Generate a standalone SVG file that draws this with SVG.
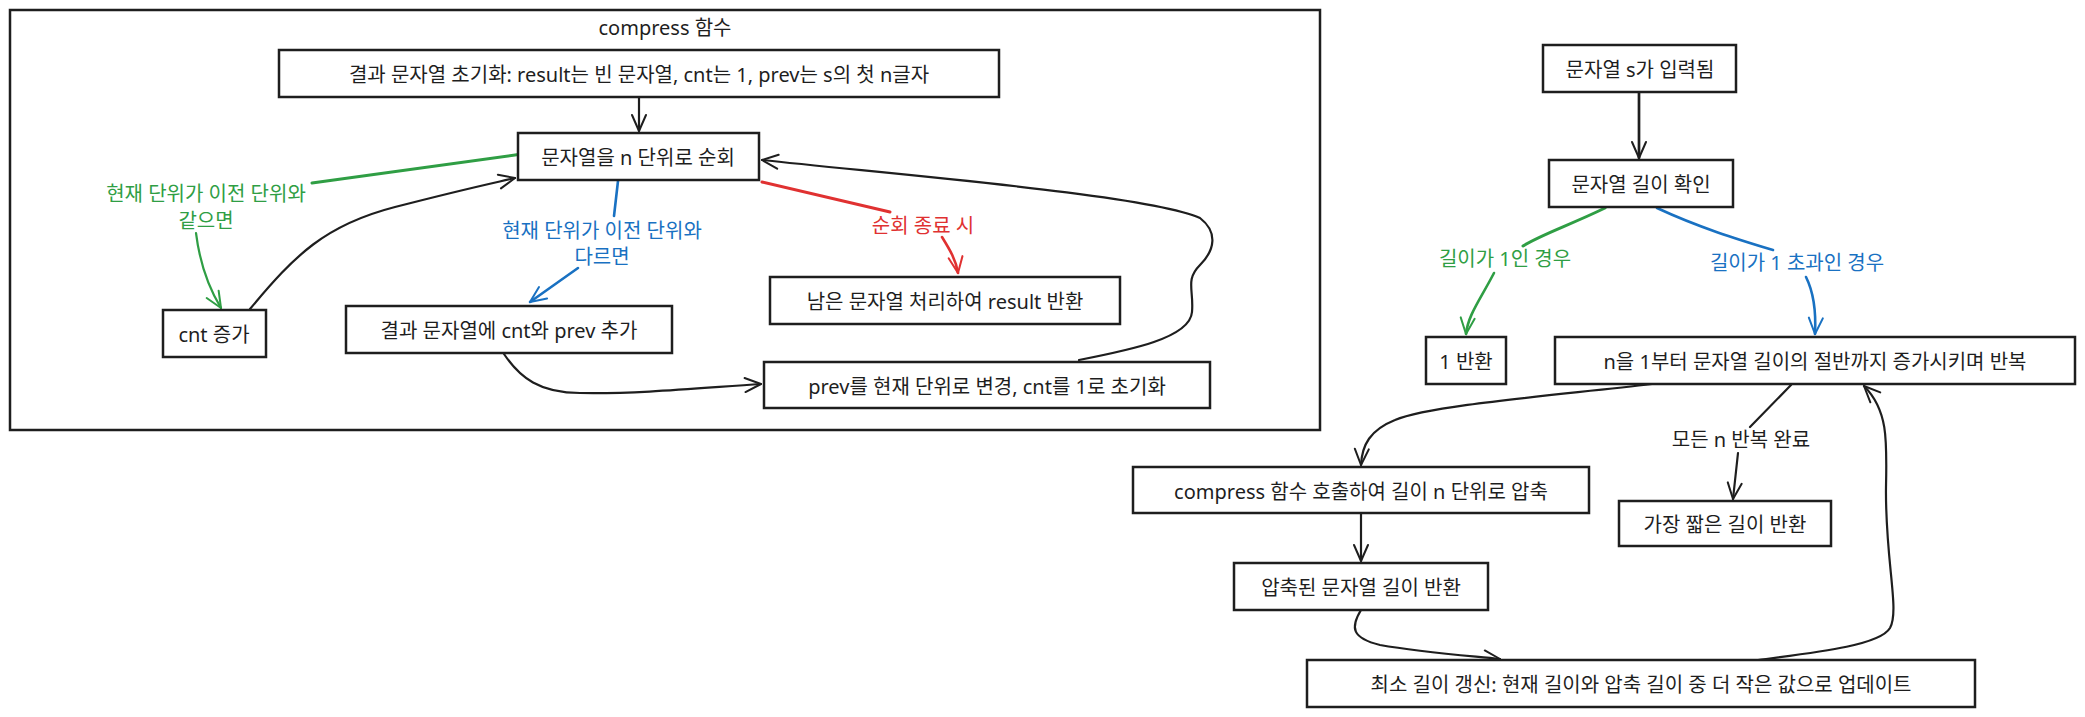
<svg xmlns="http://www.w3.org/2000/svg" width="2085" height="717" viewBox="0 0 2085 717">
<defs>
<style>
text{font-family:"Noto Sans","Noto Sans CJK KR",sans-serif;font-size:20px;text-anchor:middle;dominant-baseline:central;fill:#1e1e1e}
.box{fill:#fff;stroke:#1e1e1e;stroke-width:2.5}
.e{fill:none;stroke-width:2.2;stroke-linecap:round;stroke-linejoin:round}
.k{stroke:#1e1e1e}
.g{stroke:#2f9e44}
.b{stroke:#1971c2}
.r{stroke:#e03131}
.tg{fill:#2f9e44}
.tb{fill:#1971c2}
.tr{fill:#e03131}
</style>
<marker id="ak" viewBox="-20 -10 22 20" markerWidth="22" markerHeight="20" refX="0" refY="0" orient="auto" markerUnits="userSpaceOnUse"><path d="M-16,-7 L0,0 L-16,7" fill="none" stroke="#1e1e1e" stroke-width="2" stroke-linecap="round" stroke-linejoin="round"/></marker>
<marker id="ag" viewBox="-20 -10 22 20" markerWidth="22" markerHeight="20" refX="0" refY="0" orient="auto" markerUnits="userSpaceOnUse"><path d="M-16,-7 L0,0 L-16,7" fill="none" stroke="#2f9e44" stroke-width="2" stroke-linecap="round" stroke-linejoin="round"/></marker>
<marker id="ab" viewBox="-20 -10 22 20" markerWidth="22" markerHeight="20" refX="0" refY="0" orient="auto" markerUnits="userSpaceOnUse"><path d="M-16,-7 L0,0 L-16,7" fill="none" stroke="#1971c2" stroke-width="2" stroke-linecap="round" stroke-linejoin="round"/></marker>
<marker id="ar" viewBox="-20 -10 22 20" markerWidth="22" markerHeight="20" refX="0" refY="0" orient="auto" markerUnits="userSpaceOnUse"><path d="M-16,-7 L0,0 L-16,7" fill="none" stroke="#e03131" stroke-width="2" stroke-linecap="round" stroke-linejoin="round"/></marker>
</defs>
<rect width="2085" height="717" fill="#fff"/>
<g id="cluster-compress">
<rect x="10" y="10" width="1310" height="420" fill="none" stroke="#1e1e1e" stroke-width="2.5"/>
<text x="665" y="27">compress 함수</text>
</g>
<g id="connectors">
<path class="e k" d="M639,97 L639,131" marker-end="url(#ak)"/>
<path class="e k" d="M250,309 C295,255 325,225 395,207 S480,186 515,178" marker-end="url(#ak)"/>
<path class="e k" d="M504,354 C520,378 540,393 580,393 C640,394 700,388 761,384" marker-end="url(#ak)"/>
<path class="e k" d="M1079,360 C1130,350 1190,338 1192,312 C1194,290 1185,280 1200,265 C1215,250 1218,232 1200,218 C1150,195 900,175 762,160" marker-end="url(#ak)"/>
<path class="e k" d="M1639,92 L1639,158" marker-end="url(#ak)" style="stroke-width:2.7"/>
<path class="e k" d="M1652,384 C1560,395 1430,405 1395,420 C1370,430 1362,445 1361,465" marker-end="url(#ak)"/>
<path class="e k" d="M1791,385 L1750,427"/>
<path class="e k" d="M1738,453 L1733,499" marker-end="url(#ak)"/>
<path class="e k" d="M1361,513 L1361,561" marker-end="url(#ak)"/>
<path class="e k" d="M1361,610 C1350,628 1352,638 1380,645 C1420,652 1460,655 1500,659" marker-end="url(#ak)"/>
<path class="e k" d="M1758,660 C1820,652 1880,645 1890,628 C1900,610 1885,560 1886,487 C1887,440 1888,410 1864,386" marker-end="url(#ak)"/>
<path class="e g" d="M522,154 L312,183" style="stroke-width:3"/>
<path class="e g" d="M196,233 C200,265 210,290 221,308" marker-end="url(#ag)"/>
<path class="e g" d="M1605,208 C1570,225 1540,235 1523,246" style="stroke-width:3"/>
<path class="e g" d="M1494,273 C1480,300 1468,315 1466,334" marker-end="url(#ag)" style="stroke-width:2.6"/>
<path class="e b" d="M618,181 L614,216" style="stroke-width:2.6"/>
<path class="e b" d="M578,268 L530,302" marker-end="url(#ab)" style="stroke-width:2.6"/>
<path class="e b" d="M1657,208 C1700,228 1740,240 1773,250" style="stroke-width:2.6"/>
<path class="e b" d="M1806,277 C1815,295 1816,315 1815,334" marker-end="url(#ab)" style="stroke-width:2.6"/>
<path class="e r" d="M762,182 L890,212" style="stroke-width:3"/>
<path class="e r" d="M942,237 C950,250 956,260 958,273" marker-end="url(#ar)" style="stroke-width:2.6"/>
</g>
<g id="edge-labels">
<text class="tg" x="206" y="193">현재 단위가 이전 단위와</text>
<text class="tg" x="206" y="220">같으면</text>
<text class="tb" x="602" y="230">현재 단위가 이전 단위와</text>
<text class="tb" x="602" y="256">다르면</text>
<text class="tr" x="923" y="225">순회 종료 시</text>
<text class="tg" x="1505" y="258">길이가 1인 경우</text>
<text class="tb" x="1797" y="262">길이가 1 초과인 경우</text>
<text x="1741" y="439">모든 n 반복 완료</text>
</g>
<g id="node-init"><rect class="box" x="279" y="50" width="720" height="47"/><text x="639" y="74">결과 문자열 초기화: result는 빈 문자열, cnt는 1, prev는 s의 첫 n글자</text></g>
<g id="node-loop"><rect class="box" x="518" y="133" width="241" height="47"/><text x="638" y="157">문자열을 n 단위로 순회</text></g>
<g id="node-cnt"><rect class="box" x="163" y="310" width="103" height="47"/><text x="214" y="334">cnt 증가</text></g>
<g id="node-append"><rect class="box" x="346" y="306" width="326" height="47"/><text x="509" y="330">결과 문자열에 cnt와 prev 추가</text></g>
<g id="node-rest"><rect class="box" x="770" y="277" width="350" height="47"/><text x="945" y="301">남은 문자열 처리하여 result 반환</text></g>
<g id="node-prev"><rect class="box" x="764" y="362" width="446" height="46"/><text x="987" y="386">prev를 현재 단위로 변경, cnt를 1로 초기화</text></g>
<g id="node-input"><rect class="box" x="1543" y="45" width="193" height="47"/><text x="1640" y="69">문자열 s가 입력됨</text></g>
<g id="node-check"><rect class="box" x="1549" y="160" width="184" height="47"/><text x="1641" y="184">문자열 길이 확인</text></g>
<g id="node-one"><rect class="box" x="1426" y="337" width="80" height="47"/><text x="1466" y="361">1 반환</text></g>
<g id="node-iter"><rect class="box" x="1555" y="337" width="520" height="47"/><text x="1815" y="361">n을 1부터 문자열 길이의 절반까지 증가시키며 반복</text></g>
<g id="node-call"><rect class="box" x="1133" y="467" width="456" height="46"/><text x="1361" y="491">compress 함수 호출하여 길이 n 단위로 압축</text></g>
<g id="node-shortest"><rect class="box" x="1619" y="501" width="212" height="45"/><text x="1725" y="524">가장 짧은 길이 반환</text></g>
<g id="node-len"><rect class="box" x="1234" y="563" width="254" height="47"/><text x="1361" y="587">압축된 문자열 길이 반환</text></g>
<g id="node-min"><rect class="box" x="1307" y="660" width="668" height="47"/><text x="1641" y="684">최소 길이 갱신: 현재 길이와 압축 길이 중 더 작은 값으로 업데이트</text></g>
</svg>
